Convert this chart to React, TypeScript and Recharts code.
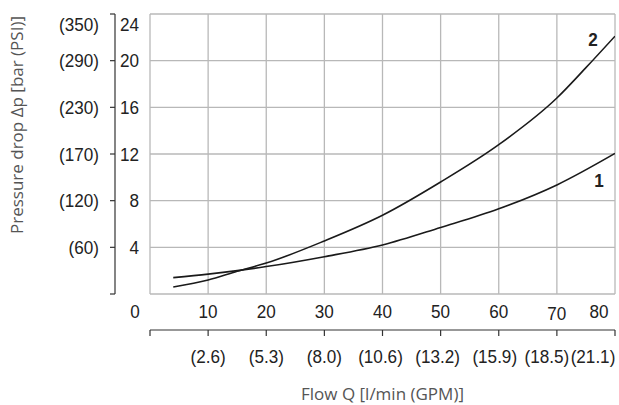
import { LineChart, Line, XAxis, YAxis, CartesianGrid } from "recharts";

// flow axis (l/min) and its GPM equivalents
const flowTicks = [0, 10, 20, 30, 40, 50, 60, 70, 80];
const gpmLabels = ["", "(2.6)", "(5.3)", "(8.0)", "(10.6)", "(13.2)", "(15.9)", "(18.5)", "(21.1)"];

// pressure axis (bar) and its PSI equivalents
const barTicks = [0, 4, 8, 12, 16, 20, 24];
const psiLabels = ["", "(60)", "(120)", "(170)", "(230)", "(290)", "(350)"];

// curve 1
const flow1 = [4, 10, 15, 20, 30, 40, 50, 60, 70, 80];
const drop1 = [1.4, 1.7, 2.0, 2.35, 3.2, 4.2, 5.7, 7.3, 9.35, 12.05];

// curve 2
const flow2 = [4, 10, 15, 20, 30, 40, 50, 60, 70, 75, 80];
const drop2 = [0.6, 1.2, 1.95, 2.65, 4.55, 6.75, 9.6, 12.8, 16.8, 19.4, 22.1];

const data1 = flow1.map((q, i) => ({ q, dp: drop1[i] }));
const data2 = flow2.map((q, i) => ({ q, dp: drop2[i] }));

const NUM_FONT = '"Liberation Sans", Arial, sans-serif';
const TITLE_FONT = '"Open Sans", "Noto Sans", sans-serif';
const SQUEEZE = 0.9; // no condensed face installed, so narrow Liberation Sans by hand

function NarrowText({ x, y, anchor, dy, bold, size = 19, children }: any) {
  return (
    <g transform={`translate(${x},${y}) scale(${SQUEEZE},1)`}>
      <text x={0} y={0} dy={dy} textAnchor={anchor} fontFamily={NUM_FONT} fontSize={size} fontWeight={bold ? "bold" : "normal"} fill="#222">
        {children}
      </text>
    </g>
  );
}

function BarTick(props: any) {
  const { x, y, payload } = props;
  const v = payload.value;
  if (v === 0) return null;
  const i = barTicks.indexOf(v);
  const dy = v === 24 ? 10 : 0;
  return (
    <g>
      <NarrowText x={x + 29} y={y + dy} dy="0.355em" anchor="end">{v}</NarrowText>
      <NarrowText x={x - 11} y={y + dy} dy="0.355em" anchor="end">{psiLabels[i]}</NarrowText>
    </g>
  );
}

function FlowTick(props: any) {
  const { x, y, payload } = props;
  const v = payload.value;
  const dx = v === 0 ? -15 : v === 80 ? -12 : 0;
  const dy = v === 70 ? 2 : 0;
  return <NarrowText x={x + dx} y={y + dy} dy="0.71em" anchor="middle">{v}</NarrowText>;
}

const gpmShift: Record<number, number> = { 40: -2, 50: -3, 60: -4, 70: -10, 80: -18 };

function GpmTick(props: any) {
  const { x, y, payload } = props;
  const i = flowTicks.indexOf(payload.value);
  return (
    <NarrowText x={x + (gpmShift[payload.value] || 0)} y={y} dy="0.71em" anchor="middle">
      {gpmLabels[i]}
    </NarrowText>
  );
}

function YTitle(props: any) {
  const vb = props.viewBox || { x: 0, y: 14 };
  const cx = vb.x + 17;
  const cy = vb.y + 111;
  return (
    <text x={cx} y={cy} transform={`rotate(-90 ${cx} ${cy})`} textAnchor="middle" dy="0.355em" fontFamily={TITLE_FONT} fontSize={17} fill="#555">
      Pressure drop Δp [bar (PSI)]
    </text>
  );
}

function XTitle(props: any) {
  const vb = props.viewBox || { x: 150, y: 330, width: 465, height: 75 };
  return (
    <text x={vb.x + vb.width / 2} y={vb.y + 64} textAnchor="middle" dy="0.355em" fontFamily={TITLE_FONT} fontSize={17} fill="#555">
      Flow Q [l/min (GPM)]
    </text>
  );
}

const endLabel = (name: string, count: number, dx: number, dy: number) => (p: any) => {
  if (p.index !== count - 1) return null;
  const x = p.viewBox?.x ?? p.x;
  const y = p.viewBox?.y ?? p.y;
  return (
    <NarrowText key={name} x={x + dx} y={y + dy} dy="0.355em" anchor="middle" bold size={19}>
      {name}
    </NarrowText>
  );
};

export default function App() {
  return (
    <div style={{ position: "absolute", left: 0, top: 0 }}>
      <LineChart width={619} height={405} data={data2} margin={{ top: 14, right: 4, left: 0, bottom: 0 }}>
        <CartesianGrid xAxisId="flow" yAxisId="outer" stroke="#b8b8b8" strokeWidth={1.3} />
        <XAxis
          xAxisId="flow"
          dataKey="q"
          type="number"
          domain={[0, 80]}
          allowDataOverflow
          ticks={flowTicks}
          height={36}
          axisLine={false}
          tickLine={false}
          tickSize={0}
          tickMargin={10}
          tick={<FlowTick />}
        />
        <XAxis
          xAxisId="gpm"
          dataKey="q"
          type="number"
          domain={[0, 80]}
          allowDataOverflow
          ticks={flowTicks}
          height={75}
          axisLine={{ stroke: "#333", strokeWidth: 1.2 }}
          tickLine={{ stroke: "#333", strokeWidth: 1.2 }}
          tickSize={6}
          tickMargin={13}
          tick={<GpmTick />}
          label={<XTitle />}
        />
        <YAxis
          yAxisId="inner"
          type="number"
          domain={[0, 24]}
          allowDataOverflow
          ticks={barTicks}
          width={35}
          axisLine={false}
          tickLine={false}
          tick={false}
        />
        <YAxis
          yAxisId="outer"
          type="number"
          domain={[0, 24]}
          allowDataOverflow
          ticks={barTicks}
          width={115}
          axisLine={{ stroke: "#333", strokeWidth: 1.2 }}
          tickLine={{ stroke: "#333", strokeWidth: 1.2 }}
          tickSize={5}
          tickMargin={0}
          tick={<BarTick />}
          label={<YTitle />}
        />
        <Line
          xAxisId="flow"
          yAxisId="outer"
          data={data1}
          dataKey="dp"
          type="monotone"
          stroke="#1a1a1a"
          strokeWidth={1.6}
          dot={false}
          isAnimationActive={false}
          label={endLabel("1", data1.length, -16, 27)}
        />
        <Line
          xAxisId="flow"
          yAxisId="outer"
          data={data2}
          dataKey="dp"
          type="monotone"
          stroke="#1a1a1a"
          strokeWidth={1.6}
          dot={false}
          isAnimationActive={false}
          label={endLabel("2", data2.length, -22, 3)}
        />
      </LineChart>
    </div>
  );
}
